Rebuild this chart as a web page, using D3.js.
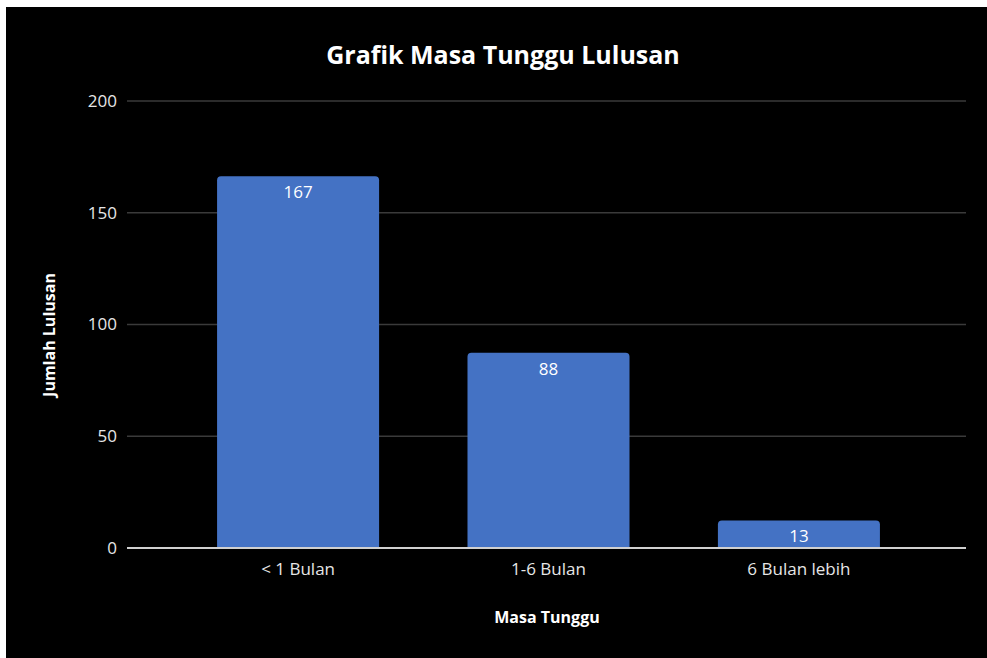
<!DOCTYPE html>
<html>
<head>
<meta charset="utf-8">
<script src="https://cdn.jsdelivr.net/npm/d3@7"></script>
<style>
  html, body { margin: 0; padding: 0; background: #fff; }
  svg { display: block; font-family: "Open Sans", sans-serif; }
</style>
</head>
<body>
<div id="chart"></div>
<script>
const categories = ["< 1 Bulan", "1-6 Bulan", "6 Bulan lebih"];
const jumlah = [167, 88, 13];
const yTicks = [0, 50, 100, 150, 200];

const width = 987, height = 658;
const plot = {left: 127, right: 966, top: 101, bottom: 548};

const svg = d3.select("#chart").append("svg")
    .attr("width", width)
    .attr("height", height);

// black chart area, offset a little from the page corner
svg.append("rect")
    .attr("x", 6).attr("y", 7)
    .attr("width", width - 6).attr("height", height - 7)
    .attr("fill", "#000");

const yScale = d3.scaleLinear()
    .domain([0, 200])
    .range([plot.bottom, plot.top]);

const xScale = d3.scaleBand()
    .domain(categories)
    .range([173, 924])
    .paddingInner(0.353)
    .paddingOuter(0.176);

// gridlines
svg.append("g")
    .selectAll("line")
    .data(yTicks.filter(d => d > 0))
    .join("line")
    .attr("x1", plot.left).attr("x2", plot.right)
    .attr("y1", d => yScale(d)).attr("y2", d => yScale(d))
    .attr("stroke", "#3a3a3a")
    .attr("stroke-width", 1.5);

// y axis labels
const yAxis = d3.axisLeft(yScale).tickValues(yTicks).tickSize(0).tickPadding(10);
const yAxisGroup = svg.append("g")
    .attr("transform", `translate(${plot.left},0)`)
    .call(yAxis);
yAxisGroup.select(".domain").remove();
yAxisGroup.selectAll("text")
    .attr("fill", "#e6e6e6")
    .style("font-size", "17px")
    .style("font-family", "Open Sans, sans-serif");

// bars with rounded top corners
const r = 4;
function barPath(d, i) {
    const x0 = xScale(categories[i]);
    const x1 = x0 + xScale.bandwidth();
    const y0 = yScale(d) + 1.5;
    const yb = yScale(0);
    return `M${x0},${yb} L${x0},${y0 + r} Q${x0},${y0} ${x0 + r},${y0} ` +
        `L${x1 - r},${y0} Q${x1},${y0} ${x1},${y0 + r} L${x1},${yb} Z`;
}

svg.append("g")
    .selectAll("path")
    .data(jumlah)
    .join("path")
    .attr("d", barPath)
    .attr("fill", "#4472C4");

// value labels inside the bars
svg.append("g")
    .selectAll("text")
    .data(jumlah)
    .join("text")
    .attr("x", (d, i) => xScale(categories[i]) + xScale.bandwidth() / 2)
    .attr("y", d => yScale(d) + 23.5)
    .attr("text-anchor", "middle")
    .attr("fill", "#fff")
    .style("font-size", "17px")
    .text(d => d);

// baseline
svg.append("line")
    .attr("x1", plot.left).attr("x2", plot.right)
    .attr("y1", yScale(0)).attr("y2", yScale(0))
    .attr("stroke", "#d0d0d0")
    .attr("stroke-width", 2);

// x axis labels
const xAxis = d3.axisBottom(xScale).tickSize(0).tickPadding(15);
const xAxisGroup = svg.append("g")
    .attr("transform", `translate(0,${plot.bottom})`)
    .call(xAxis);
xAxisGroup.select(".domain").remove();
xAxisGroup.selectAll("text")
    .attr("fill", "#e6e6e6")
    .style("font-size", "17px")
    .style("font-family", "Open Sans, sans-serif");

// title
svg.append("text")
    .attr("x", 503).attr("y", 64)
    .attr("text-anchor", "middle")
    .attr("fill", "#fff")
    .style("font-size", "25px")
    .style("font-weight", "bold")
    .text("Grafik Masa Tunggu Lulusan");

// axis titles
svg.append("text")
    .attr("x", 547).attr("y", 623)
    .attr("text-anchor", "middle")
    .attr("fill", "#fff")
    .style("font-size", "16px")
    .style("font-weight", "bold")
    .text("Masa Tunggu");

svg.append("text")
    .attr("transform", "translate(55,335) rotate(-90)")
    .attr("text-anchor", "middle")
    .attr("fill", "#fff")
    .style("font-size", "16px")
    .style("font-weight", "bold")
    .text("Jumlah Lulusan");
</script>
</body>
</html>
